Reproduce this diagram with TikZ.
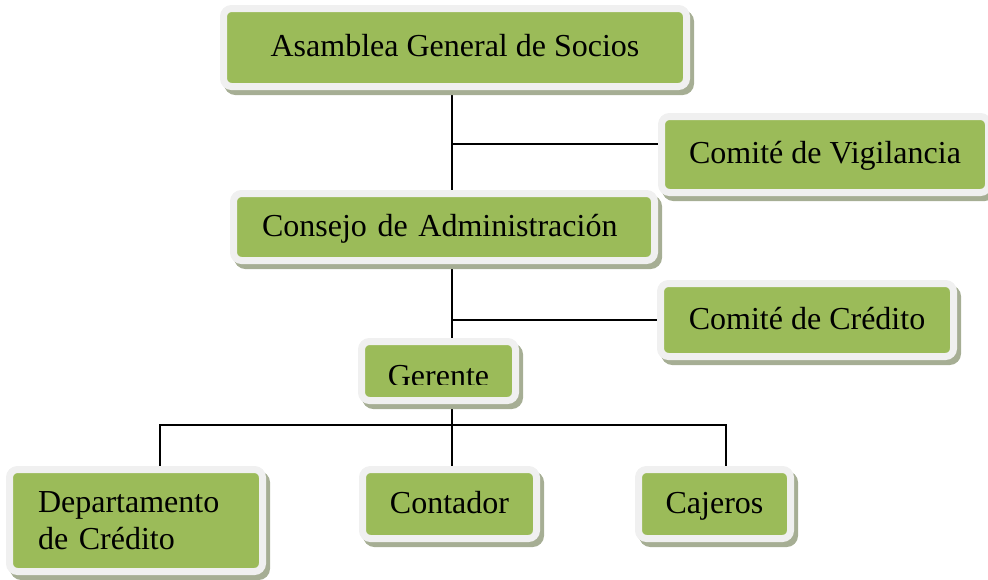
\documentclass[tikz,border=0pt]{standalone}
\usepackage{fontspec}
\setmainfont{Liberation Serif}
\usetikzlibrary{backgrounds}
\definecolor{boxgreen}{HTML}{9BBB59}
\definecolor{boxframe}{HTML}{F0F0F0}
\definecolor{boxshadow}{HTML}{A6AE94}

\begin{document}
\begin{tikzpicture}[x=0.5pt,y=-0.5pt,
                orgbox/.style={draw=boxframe,fill=boxgreen,line width=3.5pt,rounded corners=4pt,
                    inner sep=0pt,font=\fontsize{16}{18.4}\selectfont,
                    preaction={draw=boxshadow,fill=boxshadow,line width=3.5pt,
                        transform canvas={xshift=2pt,yshift=-2.5pt}}},
                oneline/.style={text height=12pt,text depth=3pt},
                leftbox/.style={align=left,inner xsep=14.25pt},
                link/.style={line width=0.9pt}]
            \useasboundingbox (0,0) rectangle (988,579);
            \node[orgbox,oneline,minimum width=231.5pt,minimum height=39pt] (asamblea) at (455,47.5) {Asamblea General de Socios};
            \node[orgbox,oneline,minimum width=163.5pt,minimum height=38pt] (vigilancia) at (825,154.5) {Comité de Vigilancia};
            \node[orgbox,oneline,leftbox,text width=182pt,minimum height=33.5pt] (consejo) at (444,227) {Consejo de Administración};
            \node[orgbox,oneline,minimum width=146.5pt,minimum height=36.5pt] (comite) at (807,320) {Comité de Crédito};
            \node[orgbox,minimum width=77pt,minimum height=29.5pt] (gerente) at (438.5,371) {};
            \node[orgbox,oneline,minimum width=87pt,minimum height=34.5pt] (contador) at (449.5,504) {Contador};
            \node[orgbox,oneline,minimum width=76pt,minimum height=34.5pt] (cajeros) at (714.5,504) {Cajeros};
            \node[orgbox,leftbox,text width=98pt,minimum height=51pt] (dept) at (136,520.5) {Departamento\\de Crédito};

            % the text of Gerente is cut at the bottom
            \coordinate (gcut) at (0,384);
            \begin{scope}
                \clip (gerente.north west) rectangle (gerente.east |- gcut);
                \node[font=\fontsize{16}{18.4}\selectfont,anchor=base,inner sep=0pt] (gerentetxt) at (438.5,386) {Gerente};
            \end{scope}

            \begin{scope}[on background layer]
                \coordinate (spine) at (452,0);
                \coordinate (vigbranch) at (452,144);
                \coordinate (busL) at (160,425);
                \coordinate (busR) at (726,425);
                \draw[link] (asamblea -| spine) -- (contador -| spine);
                \draw[link] (vigbranch) -- (vigbranch -| vigilancia.west);
                \draw[link] (spine |- comite.west) -- (comite.west);
                \draw[link] (dept -| busL) -- (busL) -- (busR) -- (cajeros -| busR);
            \end{scope}
        \end{tikzpicture}
\end{document}
